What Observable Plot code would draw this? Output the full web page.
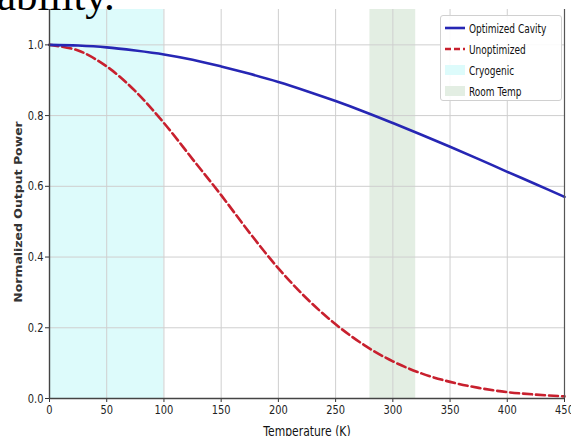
<!DOCTYPE html>
<html>
<head>
<meta charset="utf-8">
<script src="https://cdn.jsdelivr.net/npm/d3@7"></script>
<script src="https://cdn.jsdelivr.net/npm/@observablehq/plot@0.6"></script>
<style>
  html, body { margin: 0; padding: 0; background: #fff; }
  #wrap { position: relative; width: 571px; height: 436px; overflow: hidden; background: #fff; }
  #wrap > svg { position: absolute; left: 0; top: 0; }
  #topText { position: absolute; top: -26px; left: -3px; font-family: "Liberation Serif", "DejaVu Serif", serif; font-size: 43px; line-height: 1; color: #000; white-space: nowrap; }
  #legend { position: absolute; left: 440px; top: 15px; width: 122px; height: 86px; box-sizing: border-box; border: 1px solid #d0d0d0; border-radius: 3px; background: rgba(255,255,255,0.9); font-family: "DejaVu Sans", sans-serif; font-size: 12.5px; color: #111; }
  #legend .row { position: absolute; left: 4px; height: 14px; display: flex; align-items: center; }
  #legend .row span { display: inline-block; margin-left: 4px; transform: scaleX(0.72); transform-origin: left center; white-space: nowrap; }
</style>
</head>
<body>
<div id="wrap"></div>
<script>
// ---- data ----
const temps = [0, 25, 50, 75, 100, 125, 150, 175, 200, 225, 250, 275, 300, 325, 350, 375, 400, 425, 450];
const optimized = [1.000, 0.998, 0.993, 0.984, 0.973, 0.958, 0.939, 0.918, 0.895, 0.869, 0.841, 0.811, 0.779, 0.746, 0.712, 0.677, 0.641, 0.606, 0.570];
const unoptimized = [1.000, 0.984, 0.939, 0.869, 0.779, 0.677, 0.575, 0.468, 0.368, 0.282, 0.210, 0.151, 0.105, 0.071, 0.047, 0.030, 0.018, 0.011, 0.006];
const seriesNames = ["Optimized Cavity", "Unoptimized"];
const regionNames = ["Cryogenic", "Room Temp"];
const regionStart = [0, 280];
const regionEnd = [100, 320];
const xTicks = [0, 50, 100, 150, 200, 250, 300, 350, 400, 450];
const yTicks = [0.0, 0.2, 0.4, 0.6, 0.8, 1.0];
const xLabel = "Temperature (K)";
const yLabel = "Normalized Output Power";
const topFragment = "ability.";

// ---- styles ----
const lineColors = {"Optimized Cavity": "#2626b4", "Unoptimized": "#c8202e"};
const regionColors = {"Cryogenic": "#ddfbfb", "Room Temp": "#e3eee3"};
const baseFont = '"DejaVu Sans", sans-serif';

const regions = regionNames.map((n, i) => ({name: n, start: regionStart[i], end: regionEnd[i]}));
const optRows = temps.map((t, i) => ({t, v: optimized[i], s: seriesNames[0]}));
const unoptRows = temps.map((t, i) => ({t, v: unoptimized[i], s: seriesNames[1]}));

const chart = Plot.plot({
  width: 571,
  height: 436,
  marginLeft: 49,
  marginRight: 7,
  marginTop: 9,
  marginBottom: 38,
  style: {background: "transparent", fontFamily: baseFont, fontSize: "13px", color: "#222"},
  x: {domain: [0, 450]},
  y: {domain: [0, 1.1]},
  marks: [
    Plot.rect(regions, {x1: "start", x2: "end", fill: d => regionColors[d.name]}),
    Plot.gridX(xTicks, {stroke: "#cfcfcf", strokeOpacity: 1, strokeWidth: 1}),
    Plot.gridY(yTicks, {stroke: "#cfcfcf", strokeOpacity: 1, strokeWidth: 1}),
    Plot.line(unoptRows, {x: "t", y: "v", stroke: lineColors[seriesNames[1]], strokeWidth: 2.6, strokeDasharray: "9,4", curve: "catmull-rom"}),
    Plot.line(optRows, {x: "t", y: "v", stroke: lineColors[seriesNames[0]], strokeWidth: 2.6, curve: "catmull-rom"}),
    Plot.axisX(xTicks, {tickSize: 4, tickPadding: 2, label: null, fontSize: 13, stroke: "#333", fill: "#222"}),
    Plot.axisY(yTicks, {tickSize: 4, tickPadding: 2, label: null, fontSize: 13, tickFormat: d => d.toFixed(1), stroke: "#333", fill: "#222"}),
    Plot.ruleY([0], {stroke: "#444", strokeWidth: 1.4}),
    Plot.ruleX([0], {stroke: "#444", strokeWidth: 1.4}),
    Plot.ruleX([450], {stroke: "#555", strokeWidth: 1.2}),
    Plot.text([xLabel], {frameAnchor: "bottom", dy: 28, fontSize: 13.5, fill: "#111", lineAnchor: "top"}),
    Plot.text([yLabel], {frameAnchor: "left", textAnchor: "middle", rotate: -90, dx: -31, dy: 8, fontSize: 12.5, fontWeight: "bold", fill: "#333"})
  ]
});

// horizontal squeeze of the texts, as in the reference
chart.querySelectorAll("text").forEach(t => {
  const txt = t.textContent;
  const tr = t.getAttribute("transform") || "";
  if (txt === yLabel) {
    t.setAttribute("transform", tr + " scale(1,0.8)");
  } else {
    t.setAttribute("transform", tr + (txt === xLabel ? " scale(0.8,1)" : " scale(0.76,1)"));
  }
});

const wrapEl = document.getElementById("wrap");
wrapEl.appendChild(chart);

const topTextEl = document.createElement("div");
topTextEl.id = "topText";
topTextEl.textContent = topFragment;
wrapEl.appendChild(topTextEl);

// legend
const legendEl = document.createElement("div");
legendEl.id = "legend";
const legendItems = [
  {label: seriesNames[0], kind: "line", color: lineColors[seriesNames[0]]},
  {label: seriesNames[1], kind: "dash", color: lineColors[seriesNames[1]]},
  {label: regionNames[0], kind: "patch", color: regionColors[regionNames[0]]},
  {label: regionNames[1], kind: "patch", color: regionColors[regionNames[1]]}
];
legendItems.forEach((it, i) => {
  const row = document.createElement("div");
  row.className = "row";
  row.style.top = (5 + i * 21) + "px";
  const ns = "http://www.w3.org/2000/svg";
  const sw = document.createElementNS(ns, "svg");
  sw.setAttribute("width", 20);
  sw.setAttribute("height", 14);
  if (it.kind === "patch") {
    const r = document.createElementNS(ns, "rect");
    r.setAttribute("x", 0); r.setAttribute("y", 2); r.setAttribute("width", 20); r.setAttribute("height", 10);
    r.setAttribute("fill", it.color);
    sw.appendChild(r);
  } else {
    const l = document.createElementNS(ns, "line");
    l.setAttribute("x1", 0); l.setAttribute("x2", 20); l.setAttribute("y1", 7); l.setAttribute("y2", 7);
    l.setAttribute("stroke", it.color); l.setAttribute("stroke-width", 2.6);
    if (it.kind === "dash") l.setAttribute("stroke-dasharray", "6,3");
    sw.appendChild(l);
  }
  row.appendChild(sw);
  const s = document.createElement("span");
  s.textContent = it.label;
  row.appendChild(s);
  legendEl.appendChild(row);
});
wrapEl.appendChild(legendEl);
</script>
</body>
</html>
